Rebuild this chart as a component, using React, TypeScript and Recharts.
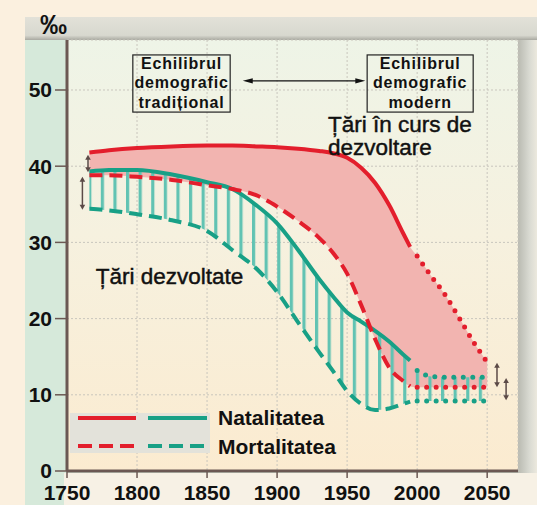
import React from "react";
import {
  ComposedChart,
  Line,
  Area,
  XAxis,
  YAxis,
  CartesianGrid,
  ReferenceLine,
  ReferenceArea,
  ReferenceDot,
  Legend,
} from "recharts";

// years sampled along the curves
const years = [1766, 1780, 1800, 1825, 1850, 1868, 1885, 1900, 1915, 1930, 1940, 1950, 1960, 1970, 1980, 1990, 1995, 2000, 2010, 2020, 2030, 2040, 2050];
// Țări în curs de dezvoltare (red)
const developingBirth = [41.8, 42.1, 42.4, 42.6, 42.7, 42.7, 42.6, 42.5, 42.3, 42.0, 41.7, 41.1, 39.8, 37.8, 34.9, 31.2, 29.4, 28.2, 25.6, 23.1, 20.1, 17.0, 14.3];
const developingDeath = [38.8, 38.8, 38.6, 38.2, 37.5, 37.0, 36.2, 34.7, 32.8, 30.6, 28.6, 25.9, 21.8, 17.3, 13.6, 11.8, 11.1, 11.0, 11.0, 11.0, 11.0, 11.0, 11.0];
// Țări dezvoltate (green)
const developedBirth = [39.3, 39.5, 39.5, 38.9, 37.9, 37.0, 34.9, 32.5, 29.0, 25.2, 22.9, 20.8, 19.6, 18.4, 17.0, 15.3, 14.5, 13.2, 12.4, 12.3, 12.3, 12.3, 12.3];
const developedDeath = [34.4, 34.2, 33.7, 32.9, 31.5, 29.0, 26.6, 23.5, 19.5, 15.6, 13.1, 10.5, 8.8, 8.0, 8.2, 8.8, 9.1, 9.2, 9.2, 9.2, 9.2, 9.2, 9.2];

const observedUntil = 1995;
const projectedFrom = 2000;

const xTicks = [1750, 1800, 1850, 1900, 1950, 2000, 2050];
const yTicks = [0, 10, 20, 30, 40, 50];
const legendLabels = ["Natalitatea", "Mortalitatea"];
const boxTraditional = ["Echilibrul", "demografic", "tradițional"];
const boxModern = ["Echilibrul", "demografic", "modern"];
const noteDeveloping = ["Țări în curs de", "dezvoltare"];
const noteDeveloped = ["Țări dezvoltate"];

const spanArrows = [
  { year: 1765, from: 41.5, to: 39.2 },
  { year: 1761, from: 38.6, to: 34.3 },
  { year: 2057, from: 14.2, to: 11.0 },
  { year: 2063.5, from: 12.2, to: 9.3 },
];

const rows = years.map((year, i) => {
  const obs = year <= observedUntil;
  const proj = year >= projectedFrom;
  return {
    year,
    pinkBand: [developingDeath[i], developingBirth[i]],
    greenBand: [developedDeath[i], developedBirth[i]],
    rBirth: obs ? developingBirth[i] : null,
    rDeath: obs ? developingDeath[i] : null,
    gBirth: obs ? developedBirth[i] : null,
    gDeath: obs ? developedDeath[i] : null,
    rBirthP: proj ? developingBirth[i] : null,
    rDeathP: proj ? developingDeath[i] : null,
    gBirthP: proj ? developedBirth[i] : null,
    gDeathP: proj ? developedDeath[i] : null,
  };
});

const FONT = '"Liberation Sans", Arial, sans-serif';
const RED = "#e31e2c";
const TEAL = "#18a086";
const STRIPE = "#62c3b3";
const PINK = "#f2b4b0";
const AXIS = "#6b5853";

function NoteBox(props: any) {
  const { x, y, width, height, lines } = props;
  const cx = x + width / 2;
  return (
    <g>
      <rect x={x} y={y} width={width} height={height} fill="none" stroke="#222" strokeWidth={1.2} />
      <text textAnchor="middle" fontFamily={FONT} fontWeight="bold" fontSize={16} letterSpacing={0.8} fill="#111">
        {lines.map((l: string, i: number) => (
          <tspan key={i} x={cx} y={y + 14 + i * 19.5}>
            {l}
          </tspan>
        ))}
      </text>
    </g>
  );
}

function NoteText(props: any) {
  const { cx, cy, lines } = props;
  return (
    <text fontFamily={FONT} fontSize={22.5} fill="#111" stroke="#111" strokeWidth={0.45}>
      {lines.map((l: string, i: number) => (
        <tspan key={i} x={cx} y={cy + i * 23}>
          {l}
        </tspan>
      ))}
    </text>
  );
}

function Arrow2(props: any) {
  const { x1, y1, x2, y2, color, len, half, width } = props;
  const dx = x2 - x1;
  const dy = y2 - y1;
  const d = Math.hypot(dx, dy) || 1;
  const ux = dx / d;
  const uy = dy / d;
  const px = -uy;
  const py = ux;
  const head = (tx: number, ty: number, sx: number, sy: number) =>
    `${tx},${ty} ${tx - sx * len + px * half},${ty - sy * len + py * half} ${tx - sx * len - px * half},${ty - sy * len - py * half}`;
  return (
    <g>
      <line x1={x1 + ux * len * 0.8} y1={y1 + uy * len * 0.8} x2={x2 - ux * len * 0.8} y2={y2 - uy * len * 0.8} stroke={color} strokeWidth={width} />
      <polygon points={head(x2, y2, ux, uy)} fill={color} />
      <polygon points={head(x1, y1, -ux, -uy)} fill={color} />
    </g>
  );
}

function LegendBox() {
  return (
    <svg width={290} height={58} style={{ display: "block" }}>
      <rect x={0} y={8} width={140} height={40} fill="#e3e2da" />
      <line x1={8} y1={13} x2={66} y2={13} stroke={RED} strokeWidth={4} />
      <line x1={78} y1={13} x2={137} y2={13} stroke={TEAL} strokeWidth={4} />
      <line x1={8} y1={41} x2={66} y2={41} stroke={RED} strokeWidth={4} strokeDasharray="14 7" />
      <line x1={78} y1={41} x2={137} y2={41} stroke={TEAL} strokeWidth={4} strokeDasharray="14 7" />
      <text x={148} y={20} fontFamily={FONT} fontWeight="bold" fontSize={21} fill="#111">
        {legendLabels[0]}
      </text>
      <text x={148} y={49} fontFamily={FONT} fontWeight="bold" fontSize={21} fill="#111">
        {legendLabels[1]}
      </text>
    </svg>
  );
}

export default function App() {
  return (
    <div
      style={{
        position: "fixed",
        left: 0,
        top: 0,
        width: 537,
        height: 505,
        overflow: "hidden",
        background: "#fbf0df",
        fontFamily: FONT,
      }}
    >
      <div style={{ position: "absolute", left: 25, top: 17, width: 512, height: 488, background: "#d6e9da" }} />
      <div
        style={{
          position: "absolute",
          left: 25,
          top: 17,
          width: 512,
          height: 23,
          background: "linear-gradient(#e2e1d8, #d8d8cf 80%, #a9a9a1)",
        }}
      />
      <div
        style={{
          position: "absolute",
          left: 518,
          top: 40,
          width: 19,
          height: 465,
          background: "linear-gradient(90deg, #b9bab1, #d9dad2 60%, #ece9de)",
        }}
      />
      <div style={{ position: "absolute", left: 64, top: 473, width: 473, height: 32, background: "#f7f1e5" }} />
      <div style={{ position: "absolute", left: 40, top: 10, fontWeight: "bold", fontSize: 27, color: "#111" }}>‰</div>

      <div style={{ position: "absolute", left: 0, top: 0 }}>
        <ComposedChart width={537} height={505} data={rows} margin={{ top: 40, right: 19, bottom: 0, left: 0 }}>
          <defs>
            <pattern id="stripes" patternUnits="userSpaceOnUse" width={12.6} height={10}>
              <rect x={0} y={0} width={3.2} height={10} fill={STRIPE} />
            </pattern>
            <linearGradient id="plotBg" x1="0" y1="0" x2="0" y2="1">
              <stop offset="0%" stopColor="#eef4e7" />
              <stop offset="45%" stopColor="#f6f1df" />
              <stop offset="100%" stopColor="#fbebd0" />
            </linearGradient>
          </defs>
          <CartesianGrid stroke="#c9c6bd" strokeDasharray="2 2" fill="url(#plotBg)" />
          <XAxis
            dataKey="year"
            type="number"
            domain={[1750, 2072]}
            ticks={xTicks}
            height={34}
            axisLine={{ stroke: AXIS, strokeWidth: 3 }}
            tickLine={{ stroke: AXIS, strokeWidth: 1.5 }}
            tickSize={7}
            tickMargin={7}
            tick={{ fill: "#111", fontSize: 21, fontWeight: "bold", fontFamily: FONT }}
            allowDataOverflow
          />
          <YAxis
            type="number"
            domain={[0, 56.56]}
            ticks={yTicks}
            width={67}
            axisLine={{ stroke: AXIS, strokeWidth: 3 }}
            tickLine={{ stroke: AXIS, strokeWidth: 1.5 }}
            tickSize={12}
            tickMargin={3}
            tick={{ fill: "#111", fontSize: 21, fontWeight: "bold", fontFamily: FONT }}
            allowDataOverflow
          />
          <Area type="monotone" dataKey="pinkBand" stroke="none" fill={PINK} fillOpacity={1} isAnimationActive={false} />
          <Area type="monotone" dataKey="greenBand" stroke="none" fill="url(#stripes)" fillOpacity={1} isAnimationActive={false} />

          <Line type="monotone" dataKey="gDeath" stroke={TEAL} strokeWidth={4} strokeDasharray="13 7" dot={false} isAnimationActive={false} />
          <Line type="monotone" dataKey="gBirth" stroke={TEAL} strokeWidth={4} dot={false} isAnimationActive={false} />
          <Line type="monotone" dataKey="gDeathP" stroke={TEAL} strokeWidth={5} strokeDasharray="0 9.5" strokeLinecap="round" dot={false} isAnimationActive={false} />
          <Line type="monotone" dataKey="gBirthP" stroke={TEAL} strokeWidth={5} strokeDasharray="0 9.5" strokeLinecap="round" dot={false} isAnimationActive={false} />
          <Line type="monotone" dataKey="rDeath" stroke={RED} strokeWidth={4} strokeDasharray="13 7" dot={false} isAnimationActive={false} />
          <Line type="monotone" dataKey="rBirth" stroke={RED} strokeWidth={4} dot={false} isAnimationActive={false} />
          <Line type="monotone" dataKey="rDeathP" stroke={RED} strokeWidth={5} strokeDasharray="0 9.5" strokeLinecap="round" dot={false} isAnimationActive={false} />
          <Line type="monotone" dataKey="rBirthP" stroke={RED} strokeWidth={5} strokeDasharray="0 9.5" strokeLinecap="round" dot={false} isAnimationActive={false} />

          {spanArrows.map((a, i) => (
            <ReferenceLine
              key={i}
              segment={[
                { x: a.year, y: a.from },
                { x: a.year, y: a.to },
              ]}
              ifOverflow="visible"
              shape={(p: any) => <Arrow2 {...p} color="#5b4a47" len={5} half={2.8} width={1.5} />}
            />
          ))}
          <ReferenceLine
            segment={[
              { x: 1875.5, y: 51.2 },
              { x: 1963, y: 51.2 },
            ]}
            ifOverflow="visible"
            shape={(p: any) => <Arrow2 {...p} color="#111" len={10} half={2.6} width={1.3} />}
          />
          <ReferenceArea
            x1={1797}
            x2={1866.5}
            y1={47.1}
            y2={54.6}
            ifOverflow="visible"
            shape={(p: any) => <NoteBox {...p} lines={boxTraditional} />}
          />
          <ReferenceArea
            x1={1964.3}
            x2={2040}
            y1={47.1}
            y2={54.6}
            ifOverflow="visible"
            shape={(p: any) => <NoteBox {...p} lines={boxModern} />}
          />
          <ReferenceDot x={1936.4} y={44.5} ifOverflow="visible" shape={(p: any) => <NoteText {...p} lines={noteDeveloping} />} />
          <ReferenceDot x={1770.5} y={24.5} ifOverflow="visible" shape={(p: any) => <NoteText {...p} lines={noteDeveloped} />} />

          <Legend
            layout="vertical"
            align="center"
            verticalAlign="middle"
            content={() => <LegendBox />}
            wrapperStyle={{ left: 70, top: 405, width: 290, height: 58 }}
          />
        </ComposedChart>
      </div>
    </div>
  );
}
